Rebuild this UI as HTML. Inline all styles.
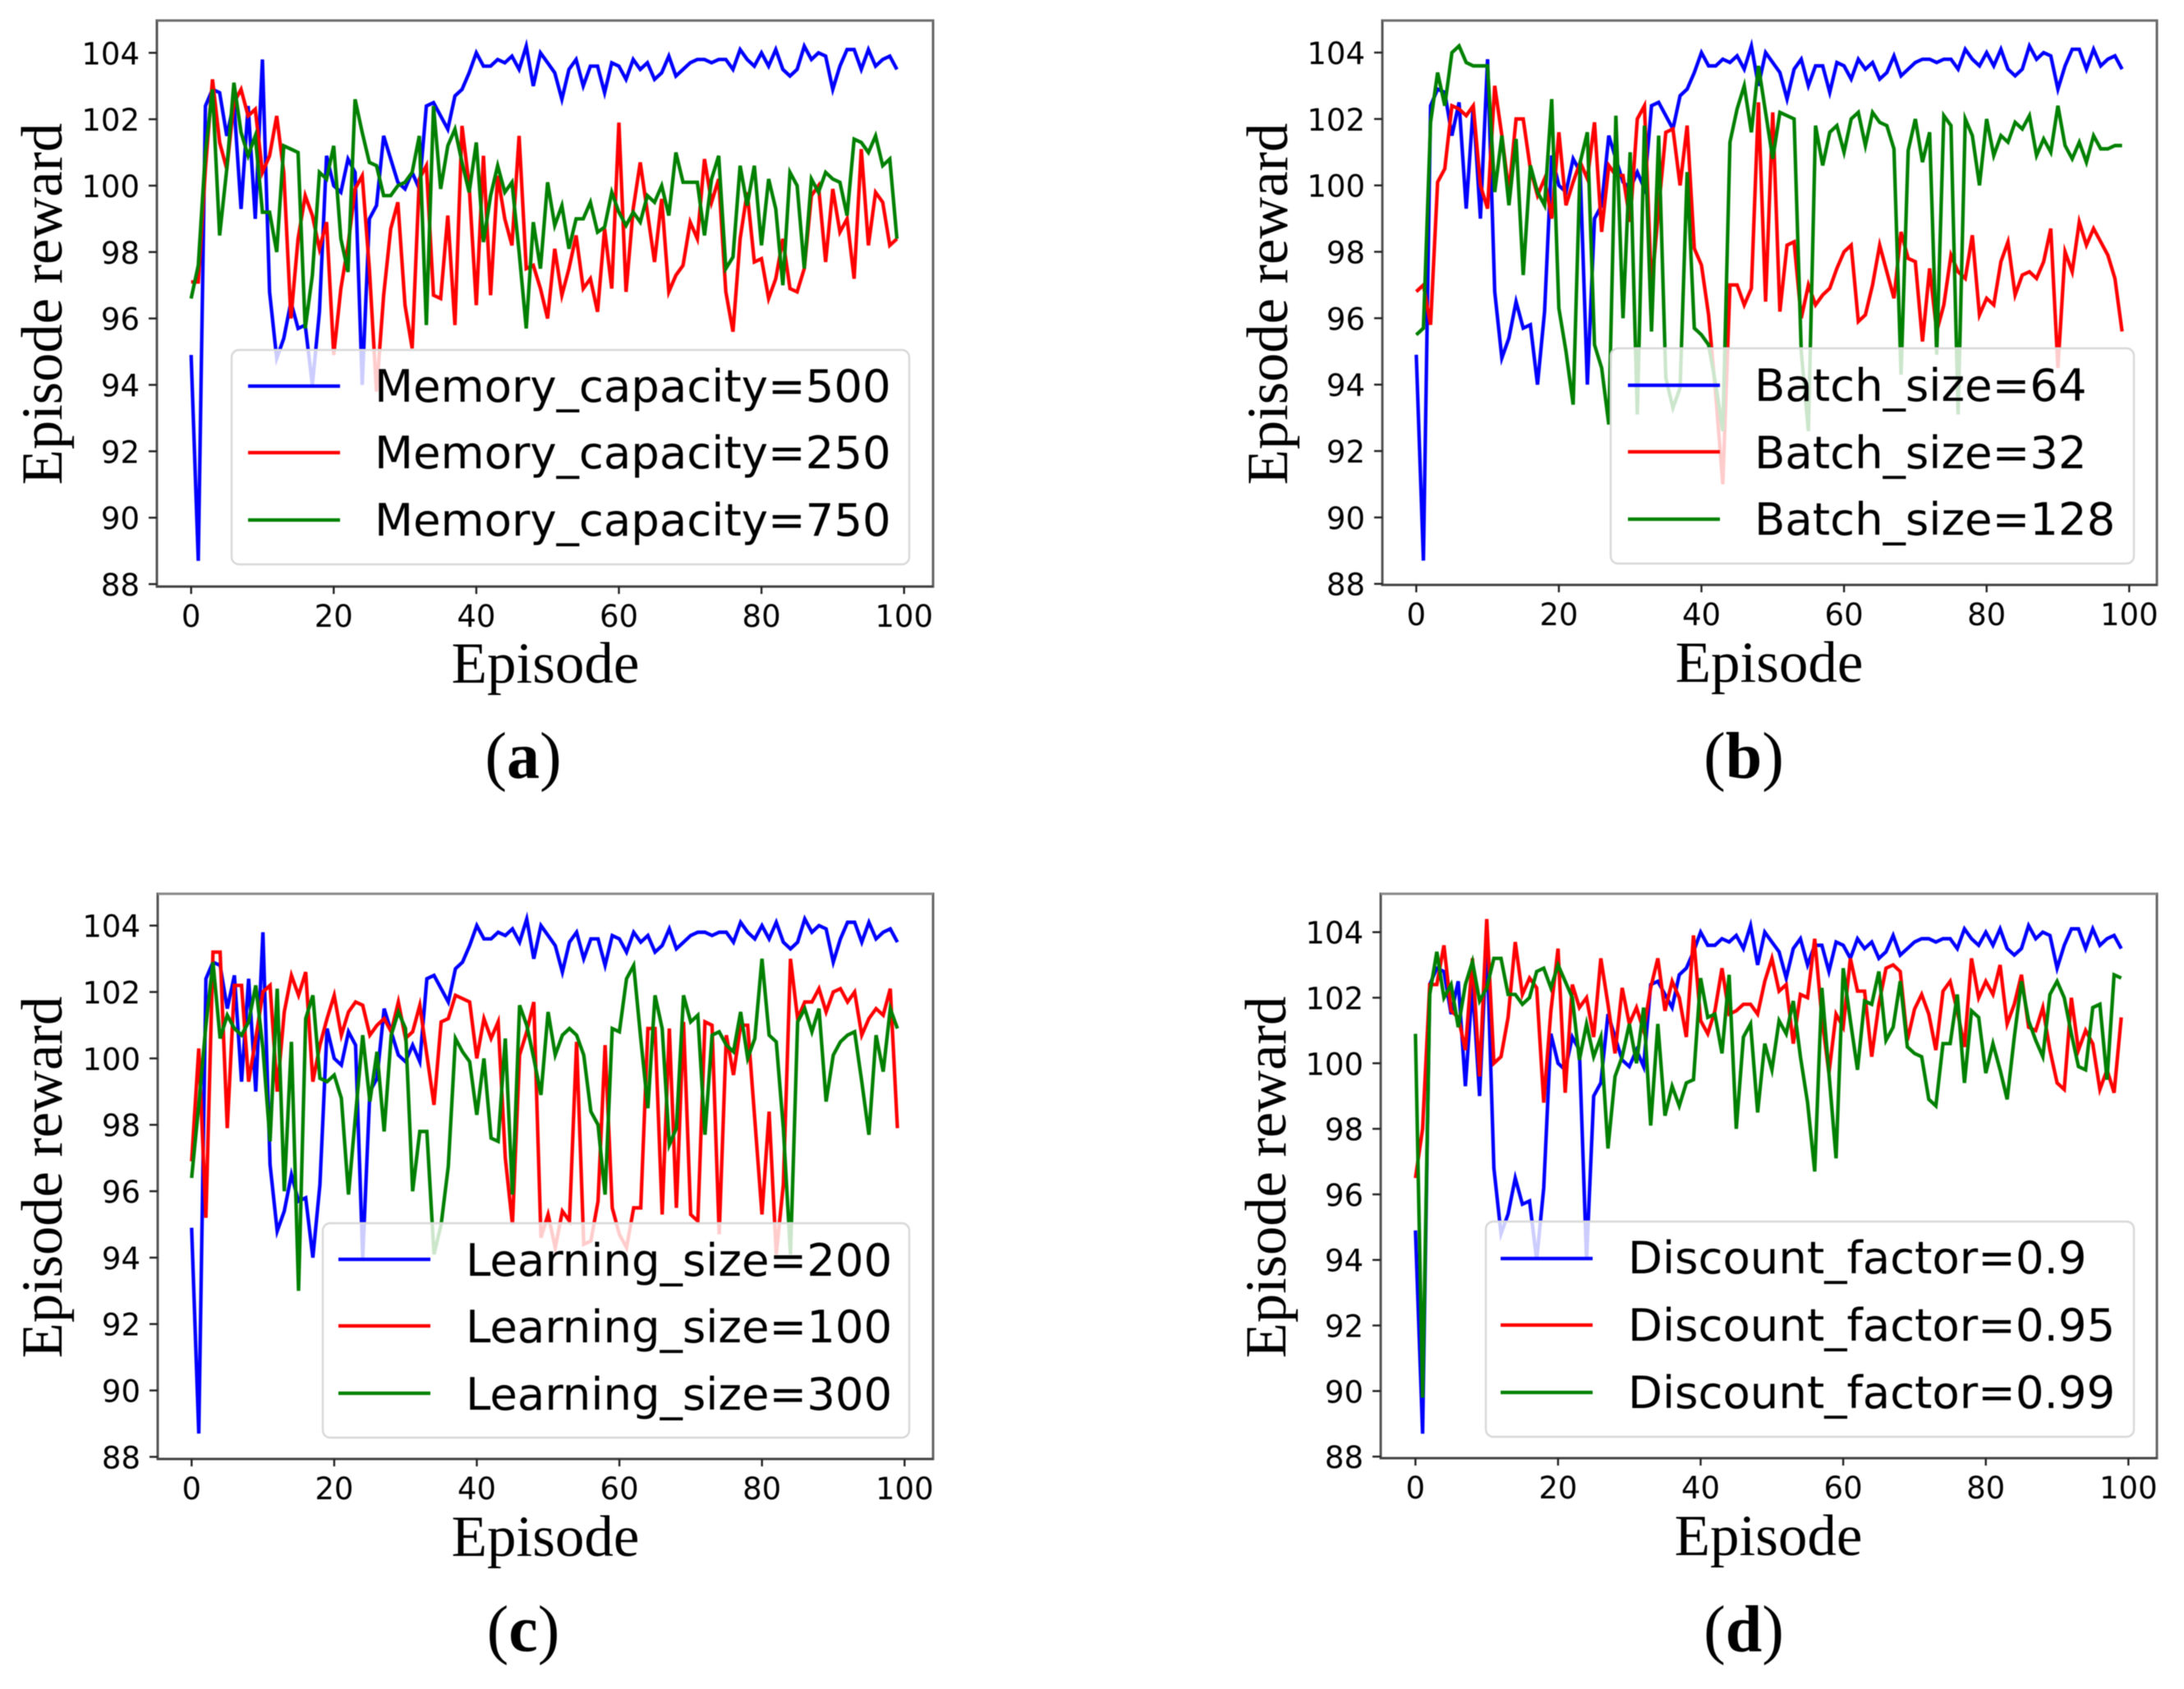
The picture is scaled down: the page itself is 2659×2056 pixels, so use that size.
<!DOCTYPE html>
<html lang="en">
<head>
<meta charset="utf-8">
<title>Episode reward panels</title>
<style>
html,body{margin:0;padding:0;background:#fff;}
svg{display:block;filter:blur(0.6px);}
</style>
</head>
<body>
<svg id="figure" xmlns="http://www.w3.org/2000/svg" width="2659" height="2056" viewBox="0 0 2659 2056"></svg>
<script>
const xTickLabels = [0, 20, 40, 60, 80, 100];
const yTickLabels = [88, 90, 92, 94, 96, 98, 100, 102, 104];

const blueBaseline = [94.9,88.7,102.4,102.9,102.8,101.5,102.5,99.3,102.4,99,
103.8,96.8,94.8,95.4,96.5,95.7,95.8,94,96.2,100.9,
100,99.8,100.8,100.4,94,99,99.4,101.5,100.8,100.1,
99.9,100.4,99.9,102.4,102.5,102.1,101.7,102.7,102.9,103.4,
104,103.6,103.6,103.8,103.7,103.9,103.5,104.2,103,104,
103.7,103.4,102.6,103.5,103.8,103,103.6,103.6,102.8,103.7,
103.6,103.2,103.8,103.5,103.7,103.2,103.4,103.9,103.3,103.5,
103.7,103.8,103.8,103.7,103.8,103.8,103.5,104.1,103.8,103.6,
104,103.6,104.1,103.5,103.3,103.5,104.2,103.8,104,103.9,
102.9,103.6,104.1,104.1,103.5,104.1,103.6,103.8,103.9,103.5];

const memory250 = [97.1,97.1,100.5,103.2,101.3,100.5,102.5,102.9,102.1,102.3,
100.4,100.9,102.1,100.4,96,98.4,99.7,99.1,98.1,98.9,
94.9,96.9,98.2,99.9,100.3,97.5,93.8,96.7,98.7,99.5,
96.4,95.1,100.2,100.6,96.7,96.6,99.1,95.8,101.8,100,
96.4,100.9,96.7,100.3,99,98.2,101.5,97.5,97.6,96.9,
96,98.1,96.7,97.5,98.5,96.9,97.2,96.2,98.7,96.9,
101.9,96.8,99.3,100.7,99.2,97.7,99.6,96.8,97.3,97.6,
98.9,98.4,100.8,99.5,100.2,96.8,95.6,98.4,99.8,97.7,
97.8,96.6,97.2,98.4,96.9,96.8,97.5,99.7,100,97.7,
99.9,98.6,99,97.2,101.1,98.2,99.8,99.5,98.2,98.4];

const memory750 = [96.6,97.6,101,102.9,98.5,100.5,103.1,101.6,100.9,101.5,
99.2,99.2,98,101.2,101.1,101,95.7,97.3,100.4,100.2,
101.2,98.4,97.4,102.6,101.6,100.7,100.6,99.7,99.7,100,
100.1,100.4,101.5,95.8,102.4,99.9,101.2,101.7,100.7,99.8,
101.3,98.3,99.7,100.6,99.8,100.1,98,95.7,98.9,97.5,
100.1,98.8,99.4,98.1,99,99,99.5,98.6,98.75,99.8,
99.2,98.8,99.2,98.9,99.7,99.5,100,99.1,101,100.1,
100.1,100.1,98.5,100.2,100.9,97.5,97.85,100.6,99.4,100.6,
98.2,100.2,99.3,97,100.4,100,97.5,100.2,99.8,100.4,
100.2,100.1,99.1,101.4,101.3,101,101.5,100.6,100.8,98.4];

const batch32 = [96.8,97,95.8,100.1,100.5,102.4,102.3,102.1,102.4,100,
99.3,103,101.5,99.8,102,102,100.5,99.7,100.2,99,
101.6,99.4,100.1,100.7,100.2,101.9,98.6,100.6,100.3,100.3,
98.9,102,102.4,96.9,99.3,101.6,101.7,100,101.8,98.1,
97.6,96.1,93.7,91,97,97,96.4,96.9,102.5,96.5,
102.2,96.2,98.2,98.3,96,97,96.4,96.7,96.9,97.5,
98,98.2,95.9,96.1,97,98.2,97.4,96.6,98.6,97.8,
97.7,95.3,97.5,95.6,96.4,97.9,97.4,97.2,98.5,96.1,
96.6,96.4,97.7,98.3,96.7,97.3,97.4,97.2,97.7,98.7,
94.5,98,97.4,98.9,98.2,98.7,98.3,97.9,97.2,95.6];

const batch128 = [95.5,95.7,101.9,103.4,102.4,104,104.2,103.7,103.6,103.6,
103.6,99.8,101.5,99.4,101.4,97.3,100.6,99.8,99.4,102.6,
96.3,95,93.4,100.7,101.6,95.2,94.5,92.8,102.1,96,
101,93.1,101.8,95.6,101.5,94.2,93.3,93.9,100.4,95.7,
95.5,95.2,94,92.6,101.3,102.3,103,101.6,103.6,102.2,
100.8,102.2,102.1,102,95,92.6,101.8,100.6,101.6,101.8,
101,102,102.2,101.2,102.2,101.9,101.8,101.1,94.3,101.05,
102,100.7,101.6,94.9,102.1,101.8,93.1,102,101.5,100,
102,100.9,101.5,101.3,101.9,101.7,102.1,100.9,101.4,101,
102.4,101.2,100.8,101.3,100.7,101.5,101.1,101.1,101.2,101.2];

const learning100 = [96.9,100.3,95.2,103.2,103.2,97.9,102.2,102.2,99.3,100.6,
102,102.2,99,101.4,102.5,101.9,102.6,99.3,100.4,101.2,
101.9,100.7,101.4,101.7,101.6,100.7,101,101.2,100.8,101.7,
100.6,100.8,101.6,100.1,98.6,101.1,101.2,101.9,101.8,101.7,
100,101.2,100.6,101.1,97,95,100.1,100.8,101.7,94.6,
95.3,94.3,95.4,95.1,100.5,94.4,94.5,95.7,100.4,95.5,
94.7,94.3,95.5,95.5,100.9,100.9,95.3,100.9,95.5,101.1,
95.3,95.1,101.1,101,94.7,100.7,99.5,101,101,98.15,
95.3,98.4,94.1,96.2,103,101.2,101.7,101.7,102.1,101.4,
102,102.1,101.7,102,100.7,101.2,101.5,101.3,102.1,97.9];

const learning300 = [96.4,98.6,101,102.9,100.6,101.3,100.9,100.7,101.1,102.2,
100.3,97.5,102.1,96,100.5,93,101.2,101.9,99.4,99.3,
99.5,98.8,95.9,98.3,100.7,98.7,100.2,97.8,100.7,101.4,
100.9,96,97.8,97.8,94.1,95,96.75,100.6,100.2,99.9,
98.3,100,97.6,97.5,100.6,95.9,101.6,101,100,98.9,
101.4,100.1,100.7,100.9,100.7,100.1,98.4,98,95.9,100.9,
100.8,102.4,102.8,100.6,98.5,101.9,100.9,97.4,97.9,101.9,
101.1,101.3,97.7,100.7,100.8,100.4,100.2,101.4,100,100.6,
103,100.7,100.5,97.9,94.1,101.1,101.5,100.8,101.5,98.7,
100.1,100.5,100.7,100.8,99.3,97.7,100.7,99.6,101.5,100.9];

const discount095 = [96.5,98,102.4,102.4,103.6,101.6,101.4,100.4,103.2,99.6,
104.4,100,100.2,101.4,103.7,102.1,102.6,102.3,98.8,101.6,
103.5,99.1,102.4,101.7,102,100.8,103.2,101.8,100.3,102.3,
101.2,101.7,101,102.3,103.2,101.6,102.5,102,100.8,103.9,
101.3,100.9,101.6,102.9,101.5,101.6,101.8,101.8,101.5,102.5,
103.2,102.2,102.4,100.6,102.1,102,103.8,101.4,99.7,101.5,
101.1,103.2,102.2,102.2,100.2,101.8,102.9,103,102.8,100.7,
101.65,102.1,101.5,100.4,102.2,102.5,101.6,100.5,103.2,102,
102.5,102.1,103,101.2,101.8,102.7,101.1,101,101.7,100.4,
99.4,99.2,102,100.4,101,100.6,99.2,99.8,99.1,101.4];

const discount099 = [100.9,89.8,102.1,103.4,102,102.4,101.1,102.4,103.1,101.9,
102.3,103.2,103.2,102.1,102.1,101.8,102,102.8,102.9,102.3,
103,102.5,102,100.1,101.2,100.2,100.8,97.4,99.6,100.2,
101.2,100,101.7,98.1,101.2,98.4,99.3,98.7,99.4,99.5,
102.6,101.4,101.5,100.3,102.7,98,100.8,101.2,98.5,100.6,
99.8,101.3,100.9,101.9,100.2,98.8,96.7,102.3,99.7,97.1,
102.9,101.3,99.8,101.9,101.8,102.8,100.7,101.1,102.5,100.5,
100.3,100.2,98.9,98.7,100.6,100.6,102.1,99.4,101.6,101.4,
99.7,100.6,99.8,98.9,100.8,102.5,101.3,100.7,100.2,102.1,
102.5,102,100.9,99.9,99.8,101.7,101.8,99.5,102.7,102.6];

const legendMemory = ['Memory_capacity=500', 'Memory_capacity=250', 'Memory_capacity=750'];
const legendBatch = ['Batch_size=64', 'Batch_size=32', 'Batch_size=128'];
const legendLearning = ['Learning_size=200', 'Learning_size=100', 'Learning_size=300'];
const legendDiscount = ['Discount_factor=0.9', 'Discount_factor=0.95', 'Discount_factor=0.99'];

const seriesColors = ['#0000ff', '#ff0000', '#008000'];

const panels = [
  {id:'a', series:[blueBaseline, memory250, memory750], labels:legendMemory,
   L:191, R:1136, T:25, B:714, x0:232.7, xs:8.68, y104:64.3, ys:40.42, topColor:'#6e6e6e',
   yTitleX:75, yTitleY:370, xTitleX:664, xTitleY:831,
   capX:637, capY:947,
   lg:{x:282, y:426, w:825, h:261, hx1:302, hx2:414, hy:[470,551,633], tx:456, ty:[489,570,652]}},
  {id:'b', series:[blueBaseline, batch32, batch128], labels:legendBatch,
   L:1683, R:2626, T:25, B:712, x0:1724.3, xs:8.68, y104:64, ys:40.42, topColor:'#6e6e6e',
   yTitleX:1567, yTitleY:370, xTitleX:2154, xTitleY:830,
   capX:2123, capY:947,
   lg:{x:1961, y:424, w:637, h:262, hx1:1982, hx2:2094, hy:[469,550,632], tx:2136, ty:[488,570,651]}},
  {id:'c', series:[blueBaseline, learning100, learning300], labels:legendLearning,
   L:192, R:1136, T:1088, B:1776, x0:233.3, xs:8.68, y104:1126.7, ys:40.42, topColor:'#8a8a8a',
   yTitleX:75, yTitleY:1433, xTitleX:664, xTitleY:1894,
   capX:637, capY:2010,
   lg:{x:393, y:1489, w:714, h:261, hx1:412, hx2:524, hy:[1533,1614,1696], tx:567, ty:[1553,1634,1716]}},
  {id:'d', series:[blueBaseline, discount095, discount099], labels:legendDiscount,
   L:1681, R:2626, T:1088, B:1775, x0:1723.3, xs:8.68, y104:1134.7, ys:39.9, topColor:'#8a8a8a',
   yTitleX:1565, yTitleY:1433, xTitleX:2153, xTitleY:1893,
   capX:2123, capY:2010,
   lg:{x:1809, y:1487, w:789, h:262, hx1:1827, hx2:1939, hy:[1532,1613,1695], tx:1982, ty:[1550,1632,1714]}}
];

const NS = 'http://www.w3.org/2000/svg';
const figure = document.getElementById('figure');

function make(tag, attrs, parent) {
  const node = document.createElementNS(NS, tag);
  for (const k in attrs) node.setAttribute(k, attrs[k]);
  parent.appendChild(node);
  return node;
}

panels.forEach(function (p) {
  const xScale = function (v) { return p.x0 + v * p.xs; };
  const yScale = function (v) { return p.y104 + (104 - v) * p.ys; };

  const group = make('g', {}, figure);
  
  

  const plotBg = make('rect', {x:p.L, y:p.T, width:p.R - p.L, height:p.B - p.T, fill:'#fff'}, group);
  
  

  p.series.forEach(function (vals, si) {
    const pts = vals.map(function (v, i) { return xScale(i).toFixed(1) + ',' + yScale(v).toFixed(1); }).join(' ');
    const line = make('polyline', {points:pts, fill:'none', stroke:seriesColors[si], 'stroke-width':4.3, 'stroke-linejoin':'miter', 'stroke-miterlimit':5}, group);
    
    
  });

  const legendBox = make('rect', {x:p.lg.x, y:p.lg.y, width:p.lg.w, height:p.lg.h, rx:9, ry:9, fill:'#fff', 'fill-opacity':0.8, stroke:'#d8d8d8', 'stroke-width':2.4}, group);
  
  

  p.labels.forEach(function (label, si) {
    const handle = make('line', {x1:p.lg.hx1, x2:p.lg.hx2, y1:p.lg.hy[si], y2:p.lg.hy[si], stroke:seriesColors[si], 'stroke-width':4.3}, group);
    
    
    const entry = make('text', {x:p.lg.tx, y:p.lg.ty[si], 'font-family':'"DejaVu Sans", sans-serif', 'font-size':54.5, fill:'#000'}, group);
    entry.textContent = label;
    
    
  });

  const spineLeft = make('line', {x1:p.L, x2:p.L, y1:p.T - 1.5, y2:p.B + 1.5, stroke:'#555', 'stroke-width':3}, group);
  
  
  const spineRight = make('line', {x1:p.R, x2:p.R, y1:p.T - 1.5, y2:p.B + 1.5, stroke:'#666', 'stroke-width':3}, group);
  
  
  const spineTop = make('line', {x1:p.L, x2:p.R, y1:p.T, y2:p.T, stroke:p.topColor, 'stroke-width':3}, group);
  
  
  const spineBottom = make('line', {x1:p.L, x2:p.R, y1:p.B, y2:p.B, stroke:'#444', 'stroke-width':3}, group);
  
  

  xTickLabels.forEach(function (v) {
    const tick = make('line', {x1:xScale(v), x2:xScale(v), y1:p.B, y2:p.B + 9, stroke:'#222', 'stroke-width':2.4}, group);
    
    
    const lab = make('text', {x:xScale(v), y:p.B + 49, 'text-anchor':'middle', 'font-family':'"DejaVu Sans", sans-serif', 'font-size':37, fill:'#000'}, group);
    lab.textContent = v;
    
    
  });

  yTickLabels.forEach(function (v) {
    const tick = make('line', {x1:p.L - 10, x2:p.L, y1:yScale(v), y2:yScale(v), stroke:'#222', 'stroke-width':2.4}, group);
    
    
    const lab = make('text', {x:p.L - 21, y:yScale(v) + 14, 'text-anchor':'end', 'font-family':'"DejaVu Sans", sans-serif', 'font-size':37, fill:'#000'}, group);
    lab.textContent = v;
    
    
  });

  const xTitle = make('text', {x:p.xTitleX, y:p.xTitleY, 'text-anchor':'middle', 'font-family':'"Liberation Serif", serif', 'font-size':71, fill:'#000'}, group);
  xTitle.textContent = 'Episode';
  
  

  const yTitle = make('text', {x:0, y:0, transform:'translate(' + p.yTitleX + ' ' + p.yTitleY + ') rotate(-90)', 'text-anchor':'middle', 'font-family':'"Liberation Serif", serif', 'font-size':70.5, fill:'#000'}, group);
  yTitle.textContent = 'Episode reward';
  
  

  const caption = make('text', {x:p.capX, y:p.capY, 'text-anchor':'middle', 'font-family':'"Liberation Serif", serif', 'font-size':80, fill:'#000'}, group);
  
  
  const open = make('tspan', {}, caption);
  open.textContent = '(';
  const letter = make('tspan', {'font-weight':'bold'}, caption);
  letter.textContent = p.id;
  const close = make('tspan', {}, caption);
  close.textContent = ')';
});
</script>
</body>
</html>
